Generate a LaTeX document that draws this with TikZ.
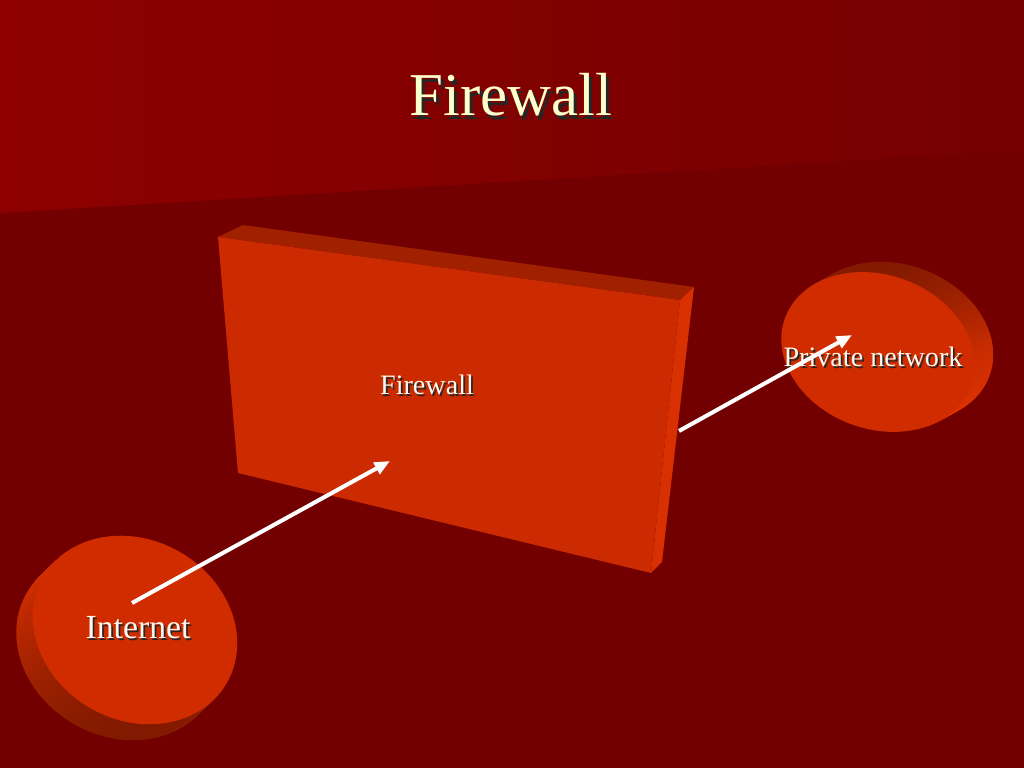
\documentclass[tikz,border=0pt]{standalone}
\usepackage{fontspec}
\setmainfont{Liberation Serif}
\usetikzlibrary{positioning,arrows.meta}

\definecolor{slideBg}{HTML}{720000}
\definecolor{skyLeft}{HTML}{8E0000}
\definecolor{skyRight}{HTML}{750000}
\definecolor{wallFront}{HTML}{CC2A00}
\definecolor{wallTop}{HTML}{A02000}
\definecolor{wallSide}{HTML}{D83000}
\definecolor{diskFace}{HTML}{D02C00}
\definecolor{diskLight}{HTML}{E83400}
\definecolor{diskDark}{HTML}{7A1800}
\definecolor{titleCream}{HTML}{FFFFCC}
\definecolor{labelWhite}{HTML}{FFF8EE}

% text with a small drop shadow
\newcommand{\shadowed}[2][0.5pt]{%
  \makebox[0pt][l]{\hspace{#1}\raisebox{-#1}{\color{black!85}#2}}#2}

\begin{document}
\begin{tikzpicture}[x=0.01cm,y=-0.01cm,
  flow/.style={draw=white, line width=1.15pt,
    -{Triangle[length=4.4pt,width=3.6pt]}},
  lbl/.style={text=labelWhite, anchor=base, inner sep=0pt}]

  % Background
  \fill[slideBg] (0,0) rectangle (1024,768);
  \shade[left color=skyLeft, right color=skyRight]
    (0,0) -- (1024,0) -- (1024,150) -- (0,213) -- cycle;
  \useasboundingbox (0,0) rectangle (1024,768);

  % Title
  \node[text=titleCream, anchor=base, inner sep=0pt] (title) at (511,116)
    {\fontsize{17.3}{20}\selectfont\shadowed[0.95pt]{Firewall}};

  % --- Wall (3D slab) ---
  \fill[wallTop] (218,237) -- (243,225) -- (694,287) -- (680,300) -- cycle;
  \fill[wallSide] (680,300) -- (694,287) -- (662,562) -- (651,573) -- cycle;
  \fill[wallFront] (218,237) -- (680,300) -- (651,573) -- (238,473) -- cycle;
  \node[lbl] (fwlabel) at (427,395)
    {\fontsize{8}{10}\selectfont\shadowed[0.5pt]{Firewall}};

  % --- Internet disk ---
  \begin{scope}[shift={(135,630)}, rotate=-30]
    \foreach \k in {21,20,...,1}
      \shade[top color=diskLight, bottom color=diskDark]
        (-0.3*\k,1.05*\k) ellipse [x radius=106, y radius=90];
    \fill[diskFace] (0,0) ellipse [x radius=106, y radius=90];
  \end{scope}
  \node[lbl] (inet) at (138,639)
    {\fontsize{9.6}{12}\selectfont\shadowed[0.5pt]{Internet}};

  % --- Private network disk ---
  \begin{scope}[shift={(878,352)}, rotate=-20]
    \foreach \k in {16,15,...,1}
      \shade[top color=diskDark, bottom color=diskLight, middle color=diskLight!70!diskDark]
        (0.87*\k,-\k) ellipse [x radius=99, y radius=77];
    \fill[diskFace] (0,0) ellipse [x radius=99, y radius=77];
  \end{scope}
  \node[lbl] (privnet) at (873,367)
    {\fontsize{8}{10}\selectfont\shadowed[0.5pt]{Private network}};

  % Arrows
  \coordinate (inetTail) at (132,603);
  \coordinate (wallHead) at (390,461);
  \coordinate (wallTail) at (679,431);
  \coordinate (privHead) at (852,335);
  \draw[flow] (inetTail) -- (wallHead);
  \draw[flow] (wallTail) -- (privHead);
\end{tikzpicture}
\end{document}
